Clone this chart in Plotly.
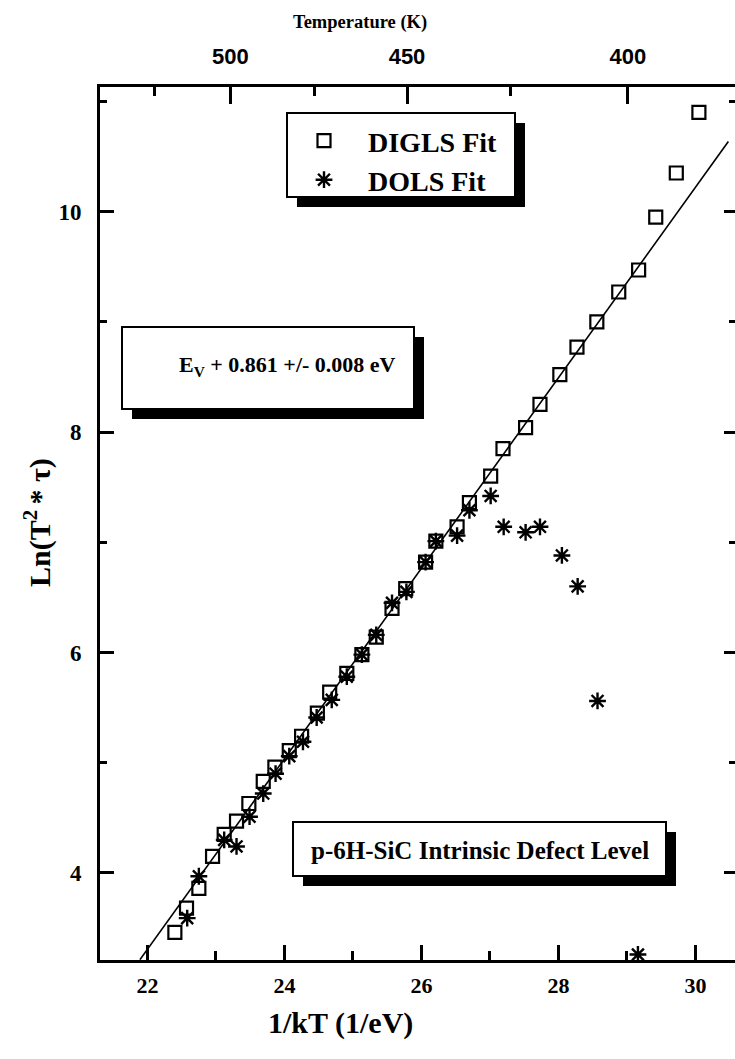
import plotly.graph_objects as go

# ---------------- data ----------------
digls_x = [22.40, 22.57, 22.75, 22.95, 23.12, 23.30, 23.48, 23.69, 23.86, 24.07, 24.25, 24.48,
           24.66, 24.91, 25.13, 25.34, 25.57, 25.77, 26.06, 26.21, 26.52, 26.70, 27.01, 27.19,
           27.52, 27.73, 28.02, 28.27, 28.56, 28.88, 29.17, 29.42, 29.72, 30.05]
digls_y = [3.46, 3.68, 3.86, 4.15, 4.35, 4.47, 4.63, 4.83, 4.96, 5.11, 5.24, 5.45,
           5.64, 5.81, 5.98, 6.14, 6.40, 6.58, 6.82, 7.01, 7.14, 7.36, 7.60, 7.85,
           8.04, 8.25, 8.52, 8.77, 9.00, 9.27, 9.47, 9.95, 10.35, 10.90]

dols_x = [22.58, 22.75, 23.12, 23.30, 23.49, 23.69, 23.87, 24.07, 24.27, 24.47, 24.69, 24.91,
          25.13, 25.34, 25.57, 25.78, 26.06, 26.21, 26.52, 26.70, 27.01, 27.20, 27.52, 27.73,
          28.05, 28.28, 28.57, 29.16]
dols_y = [3.59, 3.97, 4.30, 4.24, 4.51, 4.72, 4.90, 5.06, 5.19, 5.41, 5.57, 5.78,
          5.98, 6.16, 6.45, 6.55, 6.82, 7.01, 7.06, 7.29, 7.42, 7.14, 7.09, 7.14,
          6.88, 6.60, 5.56, 3.26]

fit_slope = 0.864
fit_intercept = -15.70
fit_x = [21.89, 30.48]

x_ticks_major = [22, 24, 26, 28, 30]
x_ticks_minor = [23, 25, 27, 29]
y_ticks_major = [4, 6, 8, 10]
y_ticks_minor = [5, 7, 9, 11]
temp_major = [500, 450, 400]
temp_minor = [525, 475, 425]

k_B = 8.617e-5  # eV/K

# ---------------- layout geometry ----------------
W, H = 735, 1059
L, R, T, B = 100, 0, 87, 99
PW, PH = W - L - R, H - T - B


def pxx(x):
    return (x - L) / PW


def pxy(y):
    return (H - B - y) / PH


SERIF = "Liberation Serif"
SANS = "Liberation Sans"
xrange_ = [21.307, 30.577]
yrange_ = [3.21, 11.13]

fig = go.Figure()

fit_y = [fit_slope * x + fit_intercept for x in fit_x]
fig.add_trace(go.Scatter(x=fit_x, y=fit_y, mode="lines", line=dict(color="black", width=1.6),
                         showlegend=False, hoverinfo="skip"))

fig.add_trace(go.Scatter(x=digls_x, y=digls_y, mode="markers", name="<b>DIGLS Fit</b>",
                         marker=dict(symbol="square-open", size=13, color="black",
                                     line=dict(width=2.2, color="black")),
                         cliponaxis=False, legend="legend"))
fig.add_trace(go.Scatter(x=dols_x, y=dols_y, mode="markers", name="<b>DOLS Fit</b>",
                         marker=dict(symbol="asterisk-open", size=14, color="black",
                                     line=dict(width=2.4, color="black")),
                         cliponaxis=False, legend="legend2"))

# invisible trace for secondary axes
fig.add_trace(go.Scatter(x=[], y=[], xaxis="x2", yaxis="y2", showlegend=False, hoverinfo="skip"))

axis_common = dict(showgrid=False, zeroline=False, ticks="inside", tickcolor="black",
                   tickwidth=2.5)


def bold(v):
    return "<b>%s</b>" % v


fig.update_layout(
    width=W, height=H,
    margin=dict(l=L, r=R, t=T, b=B),
    paper_bgcolor="white", plot_bgcolor="white",
    xaxis=dict(range=xrange_, tickmode="array", tickvals=x_ticks_major,
               ticktext=[bold(v) for v in x_ticks_major],
               ticklen=15, showline=True, linecolor="black", linewidth=3,
               tickfont=dict(family=SERIF, size=22, color="black"),
               ticklabelstandoff=4,
               minor=dict(tickmode="array", tickvals=x_ticks_minor, ticks="inside",
                          ticklen=9, tickwidth=2.5, tickcolor="black"),
               **axis_common),
    yaxis=dict(range=yrange_, tickmode="array", tickvals=y_ticks_major,
               ticktext=[bold(v) for v in y_ticks_major],
               ticklen=14, showline=True, linecolor="black", linewidth=3,
               tickfont=dict(family=SERIF, size=23, color="black"),
               ticklabelstandoff=11,
               minor=dict(tickmode="array", tickvals=y_ticks_minor, ticks="inside",
                          ticklen=7, tickwidth=2.5, tickcolor="black"),
               **axis_common),
    xaxis2=dict(range=xrange_, overlaying="x", side="top", tickmode="array",
                tickvals=[1.0 / (k_B * t) for t in temp_major],
                ticktext=[bold(t) for t in temp_major],
                ticklen=17, showline=True, linecolor="black", linewidth=3,
                tickfont=dict(family=SANS, size=22, color="black"),
                ticklabelstandoff=11,
                minor=dict(tickmode="array", tickvals=[1.0 / (k_B * t) for t in temp_minor],
                           ticks="inside", ticklen=9, tickwidth=2.5, tickcolor="black"),
                **axis_common),
    yaxis2=dict(range=yrange_, overlaying="y", side="right", tickmode="array",
                tickvals=y_ticks_major, ticklen=11, showline=False, showticklabels=False,
                minor=dict(tickmode="array", tickvals=y_ticks_minor, ticks="inside",
                           ticklen=6, tickwidth=2.5, tickcolor="black"),
                **axis_common),
    legend=dict(x=pxx(280), y=pxy(141), xanchor="left", yanchor="middle",
                bgcolor="rgba(0,0,0,0)", borderwidth=0, itemwidth=78,
                font=dict(family=SERIF, size=28, color="black")),
    legend2=dict(x=pxx(280), y=pxy(180), xanchor="left", yanchor="middle",
                 bgcolor="rgba(0,0,0,0)", borderwidth=0, itemwidth=78,
                 font=dict(family=SERIF, size=28, color="black")),
)

# ---------------- boxes with shadows ----------------
boxes = [
    (287, 113, 515, 197),   # legend box
    (122, 327, 414, 409),   # energy box
    (293, 822, 666, 876),   # defect box
]
shadow = 10
shapes = []
for (x0, y0, x1, y1) in boxes:
    shapes.append(dict(type="rect", xref="paper", yref="paper",
                       x0=pxx(x0 + shadow), x1=pxx(x1 + shadow),
                       y0=pxy(y0 + shadow), y1=pxy(y1 + shadow),
                       fillcolor="black", line=dict(width=0), layer="above"))
    shapes.append(dict(type="rect", xref="paper", yref="paper",
                       x0=pxx(x0), x1=pxx(x1), y0=pxy(y0), y1=pxy(y1),
                       fillcolor="white", line=dict(color="black", width=2), layer="above"))
fig.update_layout(shapes=shapes)

ann = [
    dict(text="<b>E<sub>V</sub> + 0.861 +/- 0.008 eV</b>", x=pxx(287), y=pxy(366),
         font=dict(family=SERIF, size=22, color="black")),
    dict(text="<b>p-6H-SiC Intrinsic Defect Level</b>", x=pxx(480), y=pxy(850),
         font=dict(family=SERIF, size=25, color="black")),
    dict(text="<b>1/kT (1/eV)</b>", x=pxx(340), y=pxy(1023),
         font=dict(family=SERIF, size=30, color="black")),
    dict(text="<b>Temperature (K)</b>", x=pxx(360), y=pxy(22),
         font=dict(family=SERIF, size=18.5, color="black")),
    dict(text="<b>Ln(T<sup>2 </sup>* τ)</b>", x=pxx(37), y=pxy(523), textangle=-90,
         font=dict(family=SERIF, size=30, color="black")),
]
for a in ann:
    a.update(xref="paper", yref="paper", showarrow=False, xanchor="center", yanchor="middle")
fig.update_layout(annotations=ann)

fig.write_html("out.html", config={"displayModeBar": False},
               post_script="document.body.style.margin='0px';")
